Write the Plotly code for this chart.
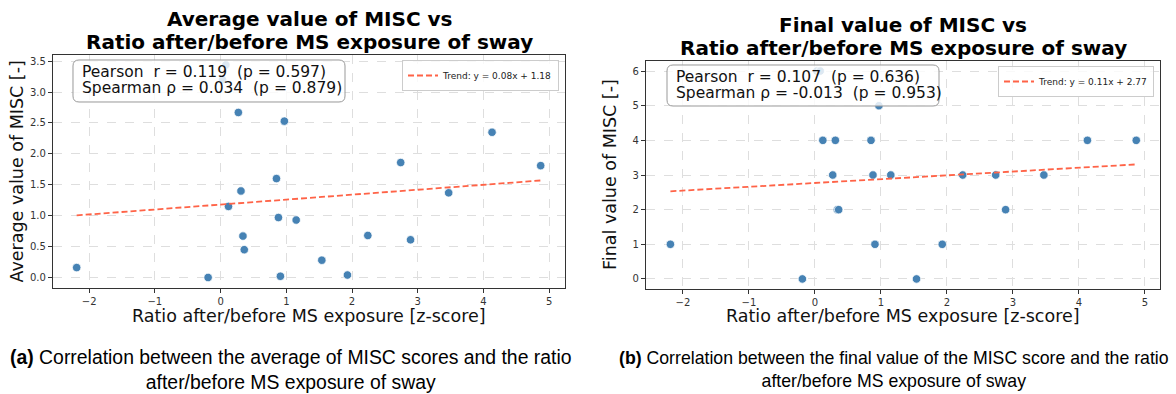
import plotly.graph_objects as go

W, H = 1176, 394

# Sway ratio after/before MS exposure (z-score), one value per participant
ratio_z = [-2.19, -0.19, 0.03, 0.08, 0.12, 0.27, 0.31, 0.34, 0.36, 0.85, 0.88,
           0.91, 0.97, 1.15, 1.54, 1.93, 2.24, 2.74, 2.89, 3.47, 4.13, 4.87]
# Average MISC score per participant
misc_avg = [0.16, 0.00, 3.20, 3.44, 1.15, 2.67, 1.40, 0.67, 0.45, 1.60, 0.97,
            0.02, 2.53, 0.93, 0.28, 0.04, 0.68, 1.86, 0.61, 1.37, 2.35, 1.81]
# Final MISC score per participant
misc_final = [1, 0, 6, 6, 4, 3, 4, 2, 2, 4, 3,
              1, 5, 3, 0, 1, 3, 3, 2, 3, 4, 4]

# Linear fits (slope, intercept) and correlation statistics
trend_avg = (0.08, 1.18)
trend_final = (0.11, 2.77)
stats_avg = ["Pearson  r = 0.119  (p = 0.597)", "Spearman \u03c1 = 0.034  (p = 0.879)"]
stats_final = ["Pearson  r = 0.107  (p = 0.636)", "Spearman \u03c1 = -0.013  (p = 0.953)"]

titles = [["Average value of MISC vs", "Ratio after/before MS exposure of sway"],
          ["Final value of MISC vs", "Ratio after/before MS exposure of sway"]]
ylabels = ["Average value of MISC [-]", "Final value of MISC [-]"]
xlabel = "Ratio after/before MS exposure [z-score]"
captions = ["<b>(a)</b> Correlation between the average of MISC scores and the ratio<br>after/before MS exposure of sway",
            "<b>(b)</b> Correlation between the final value of the MISC score and the ratio<br>after/before MS exposure of sway"]

FONT = "DejaVu Sans"
POINT = "#4682B4"
TREND = "#FF6347"
SPINE = "#333333"


def px(x):
    return x / W


def py(y):
    return 1 - y / H


def rounded_box(x0, y0, x1, y1, r):
    """SVG path in paper units for a rounded rectangle given in pixels."""
    pts = [
        ("M", x0 + r, y0), ("L", x1 - r, y0), ("Q", x1, y0, x1, y0 + r),
        ("L", x1, y1 - r), ("Q", x1, y1, x1 - r, y1), ("L", x0 + r, y1),
        ("Q", x0, y1, x0, y1 - r), ("L", x0, y0 + r), ("Q", x0, y0, x0 + r, y0),
    ]
    out = []
    for p in pts:
        cmd, coords = p[0], p[1:]
        pairs = []
        for i in range(0, len(coords), 2):
            pairs.append(f"{px(coords[i]):.5f},{py(coords[i + 1]):.5f}")
        out.append(cmd + " " + " ".join(pairs))
    return " ".join(out) + " Z"


# pixel frames of the two plotting areas: (left, top, right, bottom)
frames = [(53, 55, 565, 288), (646, 61, 1160, 289)]
ranges_x = [[-2.55, 5.24], [-2.56, 5.23]]
ranges_y = [[-0.17, 3.60], [-0.29, 6.29]]
ydticks = [0.5, 1]
yfmt = [".1f", "d"]
stat_boxes = [(73, 60, 345, 102), (667, 65, 939, 106)]
legend_pos = [(559, 60), (1154, 66)]

fig = go.Figure()

panels = [(misc_avg, trend_avg, stats_avg), (misc_final, trend_final, stats_final)]
for i, (yvals, (a, b), stats) in enumerate(panels):
    xa = "x" if i == 0 else "x2"
    ya = "y" if i == 0 else "y2"
    fig.add_trace(go.Scatter(
        x=ratio_z, y=yvals, mode="markers", xaxis=xa, yaxis=ya,
        marker=dict(color=POINT, size=8.5, line=dict(color="white", width=0.8)),
        showlegend=False, hoverinfo="x+y"))
    xl = [min(ratio_z), max(ratio_z)]
    fig.add_trace(go.Scatter(
        x=xl, y=[a * v + b for v in xl], mode="lines", xaxis=xa, yaxis=ya,
        line=dict(color=TREND, width=1.8, dash="6px,3px"),
        name=f"Trend: y = {a:.2f}x + {b:.2f}",
        legend="legend" if i == 0 else "legend2"))

layout = dict(
    width=W, height=H, margin=dict(l=0, r=0, t=0, b=0),
    paper_bgcolor="white", plot_bgcolor="white",
    font=dict(family=FONT, color="#222"),
)

for i, (l, t, r, b) in enumerate(frames):
    sx = "" if i == 0 else "2"
    layout[f"xaxis{sx}"] = dict(
        domain=[px(l), px(r)], range=ranges_x[i], anchor=f"y{sx}",
        tick0=0, dtick=1, showgrid=True, gridcolor="#dedede", griddash="dash",
        gridwidth=0.8, zeroline=False, showline=True, mirror=True,
        linecolor=SPINE, linewidth=1.2, ticks="outside", ticklen=4,
        tickcolor=SPINE, tickfont=dict(size=10, color="#333", family=FONT))
    layout[f"yaxis{sx}"] = dict(
        domain=[py(b), py(t)], range=ranges_y[i], anchor=f"x{sx}",
        tick0=0, dtick=ydticks[i], tickformat=yfmt[i],
        showgrid=True, gridcolor="#dedede", griddash="dash",
        gridwidth=0.8, zeroline=False, showline=True, mirror=True,
        linecolor=SPINE, linewidth=1.2, ticks="outside", ticklen=4,
        tickcolor=SPINE, tickfont=dict(size=10, color="#333", family=FONT))

for i, (lx, ty) in enumerate(legend_pos):
    key = "legend" if i == 0 else "legend2"
    layout[key] = dict(
        x=px(lx), y=py(ty), xanchor="right", yanchor="top",
        bgcolor="rgba(255,255,255,0.8)", bordercolor="#cccccc", borderwidth=1,
        font=dict(size=9, family=FONT, color="#222"), itemwidth=30,
        tracegroupgap=0)

fig.update_layout(**layout)

shapes = []
annotations = []
for i, (l, t, r, b) in enumerate(frames):
    cx = (l + r) / 2
    cy = (t + b) / 2
    # two-line bold title, lines placed individually for tight spacing
    for k, line in enumerate(titles[i]):
        annotations.append(dict(
            text=f"<b>{line}</b>", x=px(cx), y=py(t - 36 + 23 * k),
            xref="paper", yref="paper", xanchor="center", yanchor="middle",
            showarrow=False, font=dict(size=20, family=FONT, color="black")))
    annotations.append(dict(
        text=ylabels[i], x=px(l - 36), y=py(cy), xref="paper", yref="paper",
        xanchor="center", yanchor="middle", textangle=-90, showarrow=False,
        font=dict(size=17.5, family=FONT, color="#111")))
    annotations.append(dict(
        text=xlabel, x=px(cx), y=py(316), xref="paper", yref="paper",
        xanchor="center", yanchor="middle", showarrow=False,
        font=dict(size=17.5, family=FONT, color="#111")))
    bx0, by0, bx1, by1 = stat_boxes[i]
    shapes.append(dict(
        type="path", path=rounded_box(bx0, by0, bx1, by1, 6), xref="paper",
        yref="paper", fillcolor="rgba(255,255,255,0.82)",
        line=dict(color="#999999", width=1), layer="above"))
    for k, line in enumerate(panels[i][2]):
        annotations.append(dict(
            text=line, x=px(bx0 + 7), y=py(by0 + 12 + 16 * k),
            xref="paper", yref="paper", xanchor="left", yanchor="middle",
            align="left", showarrow=False,
            font=dict(size=15.5, family=FONT, color="#111")))

caption_x = [291, 894]
caption_size = [19.4, 17.7]
for i, cap in enumerate(captions):
    annotations.append(dict(
        text=cap, x=px(caption_x[i]), y=py(369), xref="paper", yref="paper",
        xanchor="center", yanchor="middle", align="center", showarrow=False,
        font=dict(size=caption_size[i], family="Liberation Sans", color="black")))

fig.update_layout(shapes=shapes, annotations=annotations)
fig.write_html("out.html")
